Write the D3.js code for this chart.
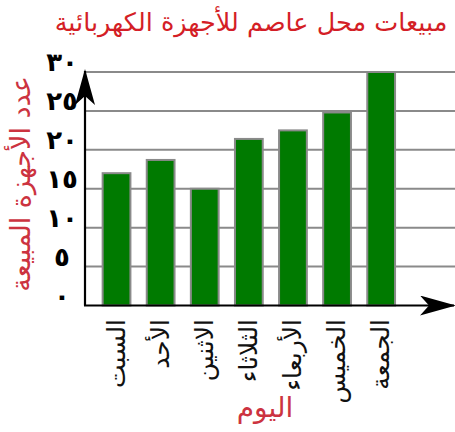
<!DOCTYPE html>
<html>
<head>
<meta charset="utf-8">
<script src="https://cdn.jsdelivr.net/npm/d3@7"></script>
<style>
  body { margin: 0; background: #fff; }
  svg { display: block; }
</style>
</head>
<body>
<div id="chart"></div>
<script>
// Sales per day
const days = ["السبت", "الأحد", "الاثنين", "الثلاثاء", "الأربعاء", "الخميس", "الجمعة"];
const sales = [17, 18.7, 15, 21.4, 22.5, 24.8, 30];
const tickValues = [0, 5, 10, 15, 20, 25, 30];
const tickLabels = ["٠", "٥", "١٠", "١٥", "٢٠", "٢٥", "٣٠"];

const titleText = "مبيعات محل عاصم للأجهزة الكهربائية";
const yLabelText = "عدد الأجهزة المبيعة";
const xLabelText = "اليوم";

const W = 455, H = 432;
const font = "'DejaVu Sans', sans-serif";

const svg = d3.select("#chart").append("svg")
  .attr("width", W)
  .attr("height", H);

// Scales
const x = d3.scaleBand()
  .domain(days)
  .range([85, 412.7])
  .paddingInner(0.37)
  .paddingOuter(0.4);

const y = d3.scaleLinear()
  .domain([0, 30])
  .range([305.5, 72]);

// Grid lines
svg.append("g")
  .selectAll("line")
  .data(tickValues.filter(d => d > 0))
  .enter()
  .append("line")
  .attr("x1", 85)
  .attr("x2", W)
  .attr("y1", d => y(d))
  .attr("y2", d => y(d))
  .attr("stroke", "#8a8a8a")
  .attr("stroke-width", 2);

// Bars
svg.append("g")
  .selectAll("rect")
  .data(days)
  .enter()
  .append("rect")
  .attr("x", d => x(d))
  .attr("y", (d, i) => y(sales[i]))
  .attr("width", x.bandwidth())
  .attr("height", (d, i) => y(0) - y(sales[i]))
  .attr("fill", "#007a00")
  .attr("stroke", "#8a8a8a")
  .attr("stroke-width", 2);

// Arrow marker for axes
svg.append("defs").append("marker")
  .attr("id", "arrow")
  .attr("viewBox", "0 0 36 20")
  .attr("refX", 34)
  .attr("refY", 10)
  .attr("markerWidth", 36)
  .attr("markerHeight", 20)
  .attr("markerUnits", "userSpaceOnUse")
  .attr("orient", "auto")
  .append("path")
  .attr("d", "M0,0 L36,10 L0,20 L9,10 Z")
  .attr("fill", "#000");

// Axes
svg.append("line")
  .attr("x1", 85).attr("y1", y(0))
  .attr("x2", 85).attr("y2", 71)
  .attr("stroke", "#000")
  .attr("stroke-width", 2.2)
  .attr("marker-end", "url(#arrow)");

svg.append("line")
  .attr("x1", 84).attr("y1", y(0))
  .attr("x2", 454).attr("y2", y(0))
  .attr("stroke", "#000")
  .attr("stroke-width", 2.2)
  .attr("marker-end", "url(#arrow)");

// Y tick labels
svg.append("g")
  .selectAll("text")
  .data(tickValues)
  .enter()
  .append("text")
  .attr("x", 62)
  .attr("y", d => y(d) - 1)
  .attr("text-anchor", "middle")
  .style("font-family", font)
  .style("font-size", "26px")
  .style("font-weight", "bold")
  .style("fill", "#000")
  .text((d, i) => tickLabels[i]);

// X category labels (rotated)
svg.append("g")
  .selectAll("text")
  .data(days)
  .enter()
  .append("text")
  .attr("transform", d => `translate(${x(d) + x.bandwidth() / 2 + 8}, 319) rotate(-90)`)
  .attr("text-anchor", "end")
  .style("font-family", font)
  .style("font-size", "25px")
  .style("fill", "#111")
  .text(d => d);

// Title
svg.append("text")
  .attr("x", 251)
  .attr("y", 31)
  .attr("text-anchor", "middle")
  .style("font-family", font)
  .style("font-size", "25.5px")
  .style("fill", "#d41e26")
  .text(titleText);

// Y axis label
svg.append("text")
  .attr("transform", "translate(30, 184) rotate(-90)")
  .attr("text-anchor", "middle")
  .style("font-family", font)
  .style("font-size", "27px")
  .style("fill", "#cc3340")
  .text(yLabelText);

// X axis label
svg.append("text")
  .attr("x", 265)
  .attr("y", 417)
  .attr("text-anchor", "middle")
  .style("font-family", font)
  .style("font-size", "28px")
  .style("fill", "#cc3340")
  .text(xLabelText);
</script>
</body>
</html>
